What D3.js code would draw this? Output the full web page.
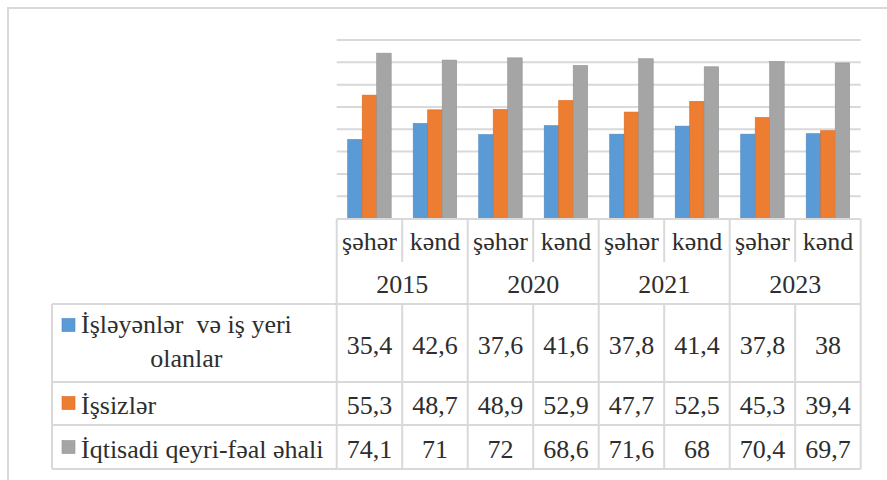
<!DOCTYPE html>
<html>
<head>
<meta charset="utf-8">
<script src="https://cdn.jsdelivr.net/npm/d3@7"></script>
<style>
  body { margin: 0; background: #fff; }
  svg { display: block; }
</style>
</head>
<body>
<svg></svg>
<script>
const years = ['2015', '2020', '2021', '2023'];
const areas = ['şəhər', 'kənd'];
const seriesNames = ['İşləyənlər  və iş yeri olanlar', 'İşsizlər', 'İqtisadi qeyri-fəal əhali'];
const employed = [35.4, 42.6, 37.6, 41.6, 37.8, 41.4, 37.8, 38];
const unemployed = [55.3, 48.7, 48.9, 52.9, 47.7, 52.5, 45.3, 39.4];
const inactive = [74.1, 71, 72, 68.6, 71.6, 68, 70.4, 69.7];
const yTicks = [0, 10, 20, 30, 40, 50, 60, 70, 80];

const colors = ['#5b9bd5', '#ed7d31', '#a5a5a5'];
const edge = ['#4a88c2', '#d96c22', '#939393'];
const width = 887;
const height = 480;
const lineColor = '#d9d9d9';
const serif = '"Liberation Serif"';

const svg = d3.select('svg').attr('width', width).attr('height', height);

// columns: one per (year, area)
const columns = [];
years.forEach(y => areas.forEach(a => columns.push({ year: y, area: a })));
const series = [employed, unemployed, inactive];

const plotLeft = 336.7, plotRight = 860.7;
const tableLeft = 52;
const rowTops = [219, 304, 382, 425, 469]; // header top, row1, row2, row3, bottom

const x = d3.scaleBand().domain(d3.range(columns.length)).range([plotLeft, plotRight]);
const xInner = d3.scaleBand().domain(d3.range(series.length))
    .range([0, x.bandwidth()]).paddingInner(0).paddingOuter(0.76);
const y = d3.scaleLinear().domain([0, 80]).range([218.5, 40]);

const fmt = v => String(v).replace('.', ',');

// outer chart frame (cut off at right/bottom)
svg.append('path')
    .attr('d', `M8,${height} V8 H${width}`)
    .attr('fill', 'none').attr('stroke', lineColor).attr('stroke-width', 2);

// gridlines
svg.append('g').selectAll('line')
    .data(yTicks.slice(1))
    .join('line')
    .attr('x1', plotLeft).attr('x2', plotRight)
    .attr('y1', d => y(d)).attr('y2', d => y(d))
    .attr('stroke', lineColor).attr('stroke-width', 2);

// bars
const groups = svg.append('g').selectAll('g')
    .data(series)
    .join('g')
    .attr('fill', (d, i) => colors[i])
    .attr('stroke', (d, i) => edge[i]);
groups.each(function (vals, si) {
    d3.select(this).selectAll('rect')
        .data(vals)
        .join('rect')
        .attr('x', (d, ci) => x(ci) + xInner(si))
        .attr('width', xInner.bandwidth())
        .attr('y', d => y(d))
        .attr('height', d => y(0) - y(d))
        .attr('stroke-width', 0.6);
});

// data table
const table = svg.append('g')
    .attr('stroke', lineColor).attr('stroke-width', 2).attr('fill', 'none');
table.append('line').attr('x1', plotLeft).attr('x2', plotRight).attr('y1', rowTops[0]).attr('y2', rowTops[0]);
rowTops.slice(1).forEach(t => {
    table.append('line').attr('x1', tableLeft).attr('x2', plotRight).attr('y1', t).attr('y2', t);
});
table.append('line').attr('x1', tableLeft).attr('x2', tableLeft).attr('y1', rowTops[1]).attr('y2', rowTops[4]);
d3.range(columns.length + 1).forEach(i => {
    const xx = i < columns.length ? x(i) : plotRight;
    if (i % 2 === 1) {
        // divider inside a year: stops above the year label
        table.append('line').attr('x1', xx).attr('x2', xx).attr('y1', rowTops[0]).attr('y2', 262);
        table.append('line').attr('x1', xx).attr('x2', xx).attr('y1', rowTops[1]).attr('y2', rowTops[4]);
    } else {
        table.append('line').attr('x1', xx).attr('x2', xx).attr('y1', rowTops[0]).attr('y2', rowTops[4]);
    }
});

const fontSize = 26;
const txt = svg.append('g');

function label(sel) {
    return sel.style('font-family', serif)
        .style('font-size', fontSize + 'px')
        .style('fill', '#2e2e2e');
}

// area labels
txt.selectAll('.area')
    .data(columns)
    .join('text')
    .attr('class', 'area')
    .attr('x', (d, i) => x(i) + x.bandwidth() / 2)
    .attr('y', 250)
    .attr('text-anchor', 'middle')
    .text(d => d.area)
    .call(label);

// year labels
txt.selectAll('.year')
    .data(years)
    .join('text')
    .attr('class', 'year')
    .attr('x', (d, i) => x(i * 2) + x.bandwidth())
    .attr('y', 293)
    .attr('text-anchor', 'middle')
    .text(d => d)
    .call(label);

// values
const valueBase = [354, 414, 458];
series.forEach((vals, si) => {
    txt.selectAll('.v' + si)
        .data(vals)
        .join('text')
        .attr('class', 'v' + si)
        .attr('x', (d, i) => x(i) + x.bandwidth() / 2)
        .attr('y', valueBase[si])
        .attr('text-anchor', 'middle')
        .text(d => fmt(d))
        .call(label);
});

// legend keys + series names
const keyTops = [318.5, 396.5, 440.5];
svg.append('g').selectAll('rect')
    .data(series)
    .join('rect')
    .attr('x', 62).attr('y', (d, i) => keyTops[i])
    .attr('width', 13).attr('height', 13)
    .attr('fill', (d, i) => colors[i])
    .attr('stroke', (d, i) => edge[i]).attr('stroke-width', 0.6);

const line1 = txt.append('text').attr('x', 81).attr('y', 333)
    .style('white-space', 'pre')
    .text('İşləyənlər  və iş yeri')
    .call(label);
const l1w = line1.node().getComputedTextLength();
txt.append('text').attr('x', 81 + l1w / 2).attr('y', 367)
    .attr('text-anchor', 'middle').text('olanlar').call(label);
txt.append('text').attr('x', 81).attr('y', 414).text(seriesNames[1]).call(label);
txt.append('text').attr('x', 81).attr('y', 458).text(seriesNames[2]).call(label);
</script>
</body>
</html>
